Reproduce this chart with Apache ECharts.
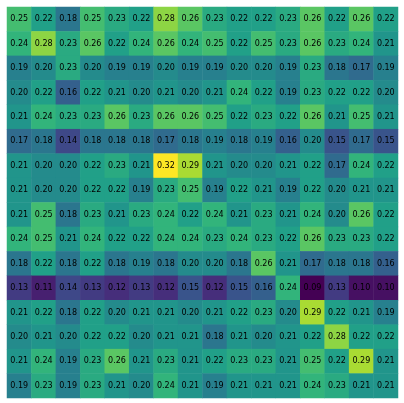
<!DOCTYPE html>
<html>
<head>
<meta charset="utf-8">
<script src="https://cdn.jsdelivr.net/npm/echarts@6/dist/echarts.min.js"></script>
<style>
html, body { margin: 0; padding: 0; background: #fff; }
#main { width: 404px; height: 403px; }
</style>
</head>
<body>
<div id="main"></div>
<script>
var rows = [
	[0.25,0.22,0.18,0.25,0.23,0.22,0.28,0.26,0.23,0.22,0.22,0.23,0.26,0.22,0.26,0.22],
	[0.24,0.28,0.23,0.26,0.22,0.24,0.26,0.24,0.25,0.22,0.25,0.23,0.26,0.23,0.24,0.21],
	[0.19,0.20,0.23,0.20,0.19,0.19,0.20,0.19,0.19,0.20,0.20,0.19,0.23,0.18,0.17,0.19],
	[0.20,0.22,0.16,0.22,0.21,0.20,0.21,0.20,0.21,0.24,0.22,0.19,0.23,0.22,0.22,0.20],
	[0.21,0.24,0.23,0.23,0.26,0.23,0.26,0.26,0.25,0.22,0.23,0.22,0.26,0.21,0.25,0.21],
	[0.17,0.18,0.14,0.18,0.18,0.18,0.17,0.18,0.19,0.18,0.19,0.16,0.20,0.15,0.17,0.15],
	[0.21,0.20,0.20,0.22,0.23,0.21,0.32,0.29,0.21,0.20,0.20,0.21,0.22,0.17,0.24,0.22],
	[0.21,0.20,0.20,0.22,0.22,0.19,0.23,0.25,0.19,0.22,0.21,0.19,0.22,0.20,0.21,0.21],
	[0.21,0.25,0.18,0.23,0.21,0.23,0.24,0.22,0.24,0.21,0.23,0.21,0.24,0.20,0.26,0.22],
	[0.24,0.25,0.21,0.24,0.22,0.22,0.24,0.24,0.23,0.24,0.23,0.22,0.26,0.23,0.23,0.22],
	[0.18,0.22,0.18,0.22,0.18,0.19,0.18,0.20,0.20,0.18,0.26,0.21,0.17,0.18,0.18,0.16],
	[0.13,0.11,0.14,0.13,0.12,0.13,0.12,0.15,0.12,0.15,0.16,0.24,0.09,0.13,0.10,0.10],
	[0.21,0.22,0.18,0.22,0.20,0.21,0.21,0.20,0.21,0.22,0.23,0.20,0.29,0.22,0.21,0.19],
	[0.20,0.21,0.20,0.22,0.22,0.20,0.21,0.21,0.18,0.21,0.20,0.21,0.22,0.28,0.22,0.22],
	[0.21,0.24,0.19,0.23,0.26,0.21,0.23,0.21,0.22,0.23,0.23,0.21,0.25,0.22,0.29,0.21],
	[0.19,0.23,0.19,0.23,0.21,0.20,0.24,0.21,0.19,0.21,0.21,0.21,0.24,0.23,0.21,0.21]
];
var cols = [];
var rowNames = [];
for (var i = 0; i < 16; i++) { cols.push('c' + i); rowNames.push('r' + i); }

var cells = [];
for (var r = 0; r < rows.length; r++) {
	for (var c = 0; c < rows[r].length; c++) {
		cells.push([c, r, rows[r][c]]);
	}
}

var chart = echarts.init(document.getElementById('main'));
var option = {
	animation: false,
	grid: { left: 7, right: 6, top: 7, bottom: 5 },
	xAxis: {
		type: 'category',
		data: cols,
		show: false
	},
	yAxis: {
		type: 'category',
		data: rowNames,
		inverse: true,
		show: false
	},
	visualMap: {
		show: false,
		min: 0.09,
		max: 0.32,
		inRange: {
			color: ['#440154','#482878','#3e4989','#31688e','#26828e','#1f9e89','#35b779','#6ece58','#b5de2b','#fde725']
		}
	},
	series: [{
		type: 'heatmap',
		data: cells,
		label: {
			show: true,
			fontSize: 8,
			fontFamily: 'DejaVu Sans',
			color: '#000',
			formatter: function (p) { return p.value[2].toFixed(2); }
		}
	}]
};
chart.setOption(option);
</script>
</body>
</html>
